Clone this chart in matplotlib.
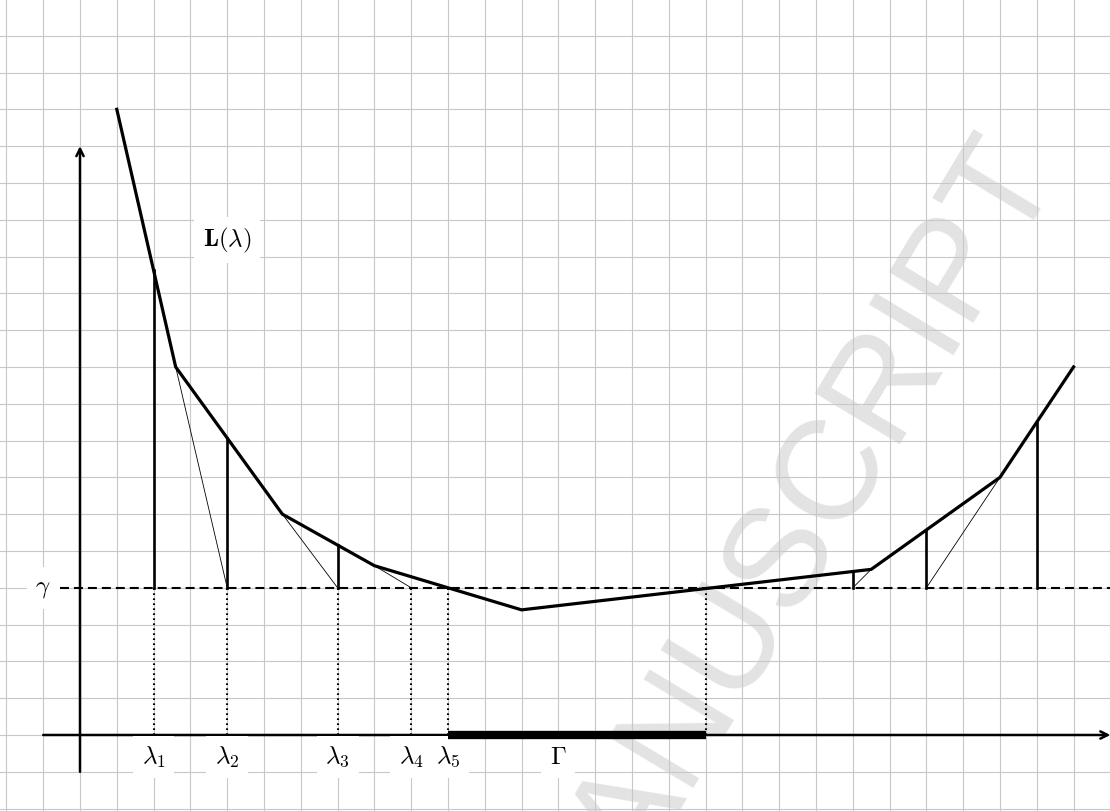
import numpy as np
import matplotlib
matplotlib.use('Agg')
import matplotlib.pyplot as plt

plt.rcParams['mathtext.fontset'] = 'cm'

# piecewise linear L(lambda), knots
lam_knots = [1, 2.6, 5.5, 8, 12, 21.5, 25, 27]
L_knots = [17, 10, 6, 4.6, 3.4, 4.5, 7, 10]
gamma = 4

lambdas = [2, 4, 7, 9, 10]
lambda_labels = [r'$\lambda_1$', r'$\lambda_2$', r'$\lambda_3$', r'$\lambda_4$', r'$\lambda_5$']
right_iter = [21, 23, 26]
Gamma_set = [10, 17]

# secant lines: knot index -> point on gamma
secants = [(1, 4), (2, 7), (3, 9), (5, 21), (6, 23)]
verticals = [2, 4, 7] + right_iter

fig = plt.figure(figsize=(11.1, 8.11), dpi=100)
ax = fig.add_axes([0, 0, 1, 1])
ax.set_xlim(-2.174, 27.99)
ax.set_ylim(-2.065, 19.97)
ax.axis('off')

# watermark
ax.text(26.66, 15.16, 'ACCEPTED MANUSCRIPT', fontsize=102, family='Liberation Sans',
        color='#e3e3e3', rotation=59, rotation_mode='anchor', ha='right', va='baseline',
        zorder=0.1)

# grid
ax.vlines(np.arange(-2, 29), -3, 21, color='#c8c8c8', lw=0.8, zorder=1)
ax.hlines(np.arange(-2, 21), -3, 29, color='#c8c8c8', lw=0.8, zorder=1)

# axes
arrow = dict(arrowstyle='->', lw=1.8, color='black', shrinkA=0, shrinkB=0, mutation_scale=13)
ax.annotate('', xy=(28, 0), xytext=(-1, 0), arrowprops=arrow, zorder=3)
ax.annotate('', xy=(0, 16), xytext=(0, -1), arrowprops=arrow, zorder=3)

box = dict(boxstyle='square,pad=0.35', fc='white', ec='none')

# gamma level
ax.plot([-0.55, 28], [gamma, gamma], color='black', lw=1.5, dashes=(4.3, 2.4), zorder=3)
ax.text(-1, gamma, r'$\gamma$', fontsize=18, ha='center', va='center', zorder=5, bbox=box)

# dotted projections
for x in lambdas + [Gamma_set[1]]:
    ax.plot([x, x], [0, gamma], color='black', lw=1.5, ls=(0, (0.8, 1.6)), zorder=3)

# vertical segments up to the curve
for x in verticals:
    ax.plot([x, x], [gamma, np.interp(x, lam_knots, L_knots)], color='black', lw=1.9, zorder=3)

# thin secants
for i, x in secants:
    ax.plot([lam_knots[i], x], [L_knots[i], gamma], color='black', lw=0.6, zorder=3)

# the curve
ax.plot(lam_knots, L_knots, color='black', lw=2.3, solid_joinstyle='miter', zorder=4)

for x, lab in zip(lambdas, lambda_labels):
    ax.text(x, -0.6, lab, fontsize=18, ha='center', va='center', zorder=5, bbox=box)
ax.text(13, -0.6, r'$\mathbf{\Gamma}$', fontsize=18, ha='center', va='center', zorder=5, bbox=box)
ax.text(4, 13.45, r'$\mathbf{L}(\lambda)$', fontsize=18, ha='center', va='center', zorder=5, bbox=box)

# Gamma interval
ax.plot(Gamma_set, [0, 0], color='black', lw=6, solid_capstyle='butt', zorder=6)

plt.savefig('out.png', dpi=100)
plt.close()
